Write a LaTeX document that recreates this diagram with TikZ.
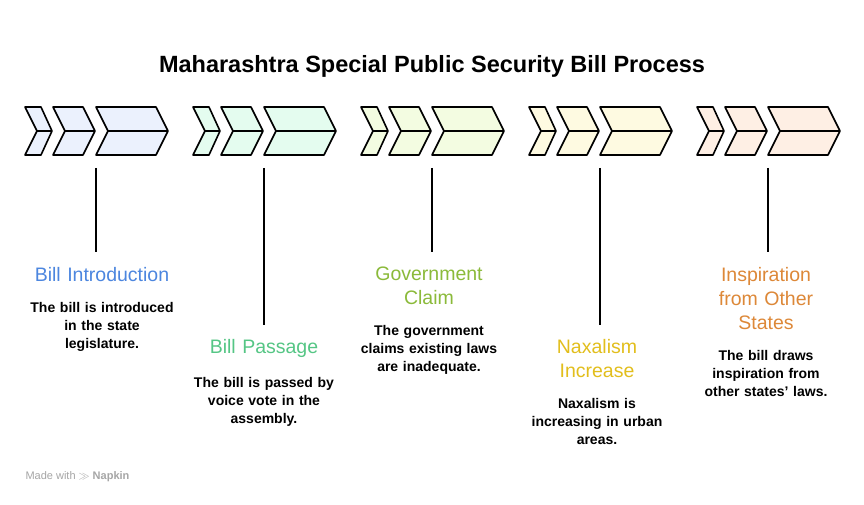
\documentclass[tikz,border=0pt]{standalone}
\usepackage{fontspec}
\setmainfont{Liberation Sans}
\usetikzlibrary{positioning}
\definecolor{cblue}{HTML}{EBF1FD}
\definecolor{cgreen}{HTML}{E4FCEF}
\definecolor{colive}{HTML}{F3FCE1}
\definecolor{cyellow}{HTML}{FEFAE1}
\definecolor{corange}{HTML}{FEEFE4}
\definecolor{tblue}{HTML}{4C86DF}
\definecolor{tgreen}{HTML}{55C685}
\definecolor{tolive}{HTML}{8BBA3A}
\definecolor{tyellow}{HTML}{E2BE1C}
\definecolor{torange}{HTML}{DD8838}
\begin{document}
\begin{tikzpicture}[
    x=1pt, y=-1pt,
    chev/.style={draw,line width=1.6pt,line join=round},
    stem/.style={draw,line width=1.3pt},
    head/.style={anchor=north,align=center,text width=170pt,font=\fontsize{19.5}{24}\selectfont,inner sep=0pt},
    desc/.style={anchor=north,align=center,text width=160pt,font=\bfseries\fontsize{14}{18}\selectfont,inner sep=0pt}]
  \useasboundingbox[fill=white] (0,0) rectangle (864,505);
  \node[font=\bfseries\fontsize{23.5}{28}\selectfont] (title) at (432,66) {Maharashtra Special Public Security Bill Process};
  \foreach \g/\c in {0/cblue,1/cgreen,2/colive,3/cyellow,4/corange}{
    \begin{scope}[xshift=\g*168]
      \draw[chev,fill=\c] (25,107) -- (41,107) -- (52,131) -- (41,155) -- (25,155) -- (37,131) -- cycle (37,131) -- (52,131);
      \draw[chev,fill=\c] (53,107) -- (83,107) -- (95,131) -- (83,155) -- (53,155) -- (65,131) -- cycle (65,131) -- (95,131);
      \draw[chev,fill=\c] (96,107) -- (156,107) -- (168,131) -- (156,155) -- (96,155) -- (108,131) -- cycle (108,131) -- (168,131);
    \end{scope}
  }
  \coordinate (top1) at (96,168);
  \coordinate (top2) at (264,168);
  \coordinate (top3) at (432,168);
  \coordinate (top4) at (600,168);
  \coordinate (top5) at (768,168);
  % headings and descriptions
  \node[head,text=tblue] (intro) at (102,267) {Bill Introduction};
  \node[desc,below=20pt of intro] (introtxt) {The bill is introduced\\in the state\\legislature.};
  \node[head,text=tgreen] (pass) at (264,339) {Bill Passage};
  \node[desc,below=20pt of pass] (passtxt) {The bill is passed by\\voice vote in the\\assembly.};
  \node[head,text=tolive] (claim) at (429,267) {Government\\Claim};
  \node[desc,below=20pt of claim] (claimtxt) {The government\\claims existing laws\\are inadequate.};
  \node[head,text=tyellow] (naxal) at (597,339) {Naxalism\\Increase};
  \node[desc,below=20pt of naxal] (naxaltxt) {Naxalism is\\increasing in urban\\areas.};
  \node[head,text=torange] (insp) at (766,267) {Inspiration\\from Other\\States};
  \node[desc,below=20pt of insp] (insptxt) {The bill draws\\inspiration from\\other states' laws.};
  \draw[stem] (top1) -- (96,252);
  \draw[stem] (top2) -- (264,325);
  \draw[stem] (top3) -- (432,252);
  \draw[stem] (top4) -- (600,325);
  \draw[stem] (top5) -- (768,252);
  \node[anchor=west,text=gray!70,font=\fontsize{11}{13}\selectfont] (napkin) at (22,477) {Made with \textbf{$\gg$ Napkin}};
\end{tikzpicture}
\end{document}
